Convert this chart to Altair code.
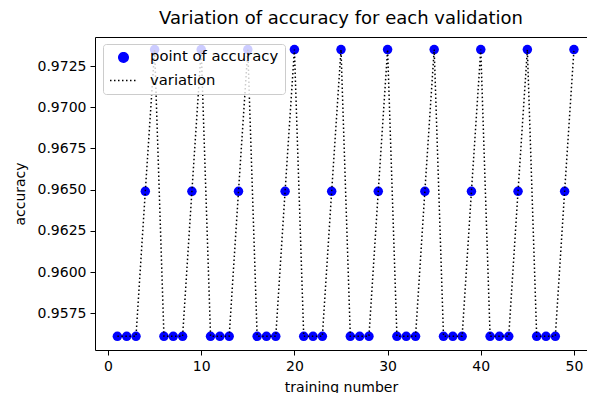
import altair as alt
import pandas as pd

training_number = list(range(1, 51))
accuracy = [
    0.9561, 0.9561, 0.9561, 0.9649, 0.9735,
    0.9561, 0.9561, 0.9561, 0.9649, 0.9735,
    0.9561, 0.9561, 0.9561, 0.9649, 0.9735,
    0.9561, 0.9561, 0.9561, 0.9649, 0.9735,
    0.9561, 0.9561, 0.9561, 0.9649, 0.9735,
    0.9561, 0.9561, 0.9561, 0.9649, 0.9735,
    0.9561, 0.9561, 0.9561, 0.9649, 0.9735,
    0.9561, 0.9561, 0.9561, 0.9649, 0.9735,
    0.9561, 0.9561, 0.9561, 0.9649, 0.9735,
    0.9561, 0.9561, 0.9561, 0.9649, 0.9735,
]
series_names = ["point of accuracy", "variation"]
series_colors = ["#0000ff", "#000000"]
series_shapes = ["circle", "stroke"]
series_dashes = [[1, 0], [1.5, 2.5]]
series_sizes = [90, 729]
y_ticks = [0.9575, 0.9600, 0.9625, 0.9650, 0.9675, 0.9700, 0.9725]
x_ticks = [0, 10, 20, 30, 40, 50]

df = pd.DataFrame({"training": training_number, "accuracy": accuracy})

FONT = "DejaVu Sans"

x_scale = alt.Scale(domain=[-1.4, 51.4], nice=False, zero=False)
x_enc = alt.X(
    "training:Q",
    scale=x_scale,
    axis=alt.Axis(values=x_ticks, format="d", title="training number"),
)
x_enc_top = alt.X(
    "training:Q",
    scale=x_scale,
    axis=alt.Axis(orient="top", labels=False, ticks=False, title=None, domain=True),
)
y_enc = alt.Y(
    "accuracy:Q",
    scale=alt.Scale(domain=[0.95527, 0.97426], nice=False, zero=False),
    axis=alt.Axis(values=y_ticks, format=".4f", title="accuracy"),
)

legend = alt.Legend(
    title=None,
    orient="none",
    legendX=8,
    legendY=7,
    symbolStrokeWidth=1.5,
)

color_enc = alt.Color(
    "series:N",
    scale=alt.Scale(domain=series_names, range=series_colors),
    legend=legend,
)
shape_enc = alt.Shape(
    "series:N",
    scale=alt.Scale(domain=series_names, range=series_shapes),
    legend=legend,
)
dash_enc = alt.StrokeDash(
    "series:N",
    scale=alt.Scale(domain=series_names, range=series_dashes),
    legend=legend,
)
size_enc = alt.Size(
    "series:N",
    scale=alt.Scale(domain=series_names, range=series_sizes),
    legend=legend,
)

points = (
    alt.Chart(df)
    .transform_calculate(series="'point of accuracy'")
    .mark_point(filled=True, opacity=1)
    .encode(x=x_enc, y=y_enc, color=color_enc, shape=shape_enc, size=size_enc)
)

line = (
    alt.Chart(df)
    .transform_calculate(series="'variation'")
    .mark_line(strokeWidth=1.5)
    .encode(x=x_enc_top, y=y_enc, color=color_enc, strokeDash=dash_enc)
)

chart = (
    alt.layer(points, line)
    .resolve_axis(x="independent")
    .properties(
        width=492,
        height=313,
        title=alt.TitleParams(
            "Variation of accuracy for each validation",
            font=FONT,
            fontSize=18,
            fontWeight="normal",
            color="#000000",
            offset=9,
        ),
        autosize=alt.AutoSizeParams(type="none"),
        padding={"left": 87, "top": 29, "right": 0, "bottom": 45},
    )
    .configure_view(strokeWidth=0)
    .configure_axis(
        labelFont=FONT,
        titleFont=FONT,
        labelFontSize=14,
        titleFontSize=14,
        titleFontWeight="normal",
        labelColor="#000000",
        titleColor="#000000",
        tickColor="#000000",
        tickSize=5,
        labelPadding=4,
        domain=True,
        domainColor="#000000",
        domainWidth=1,
        grid=False,
    )
    .configure_axisY(titlePadding=10)
    .configure_axisX(titlePadding=7)
    .configure_legend(
        labelFont=FONT,
        labelFontSize=14.8,
        labelColor="#000000",
        fillColor="rgba(255,255,255,0.8)",
        strokeColor="#cccccc",
        cornerRadius=3,
        padding=6,
        rowPadding=-2,
        labelOffset=12,
        labelLimit=300,
    )
)

chart.save("out.html", embed_options={"renderer": "svg", "actions": False})
